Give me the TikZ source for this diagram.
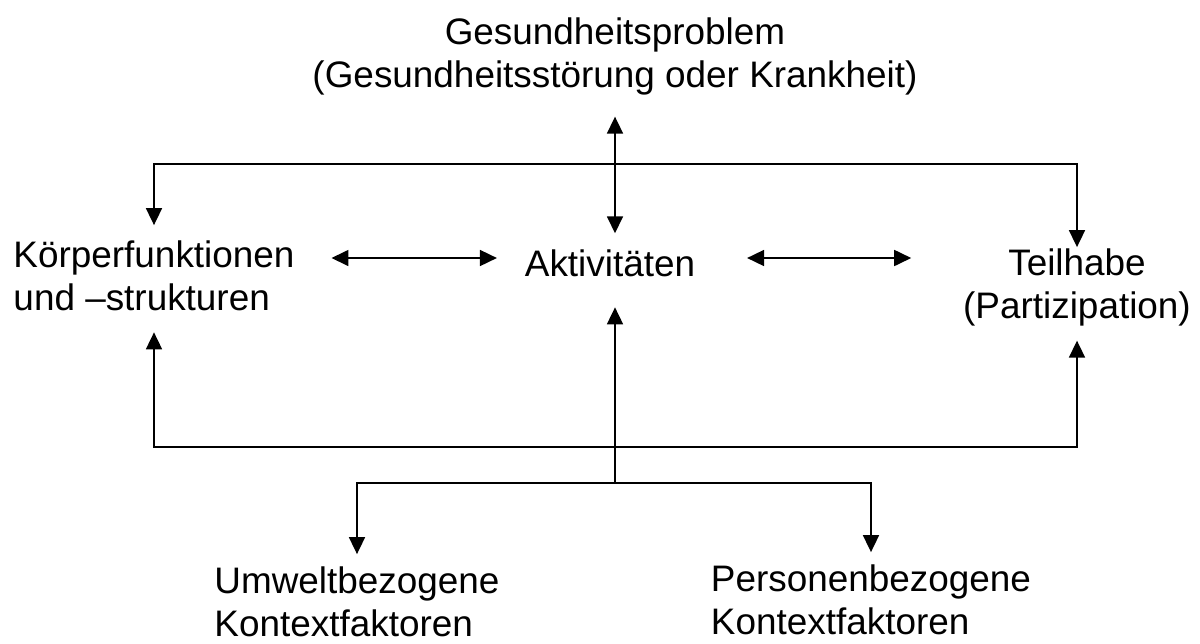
\documentclass[tikz,border=0pt]{standalone}
\usepackage{fontspec}
\setmainfont{Liberation Sans}
\usetikzlibrary{arrows.meta}

\tikzset{lbl/.style={inner sep=0pt, outer sep=0pt, align=center, font=\fontsize{21}{24}\selectfont}}
\tikzset{arr/.style={line width=1pt, -{Triangle[length=3.4mm,width=3.2mm]}}}
\tikzset{dblarr/.style={line width=1pt, {Triangle[length=3.4mm,width=3.2mm]}-{Triangle[length=3.4mm,width=3.2mm]}}}

\begin{document}
\begin{tikzpicture}[x=0.02cm, y=-0.02cm]
    \useasboundingbox (0,0) rectangle (1200,643);
    % Texte (base = letzte Zeile)
    \node[lbl, anchor=base] (gp) at (615,87) {Gesundheitsproblem\\(Gesundheitsstörung oder Krankheit)};
    \node[lbl, anchor=base, align=left] (kf) at (154,310) {Körperfunktionen\\und –strukturen};
    \node[lbl, anchor=base] (akt) at (610,276) {Aktivitäten};
    \node[lbl, anchor=base] (th) at (1077,318) {Teilhabe\\(Partizipation)};
    \node[lbl, anchor=base, align=left] (uw) at (357,636) {Umweltbezogene\\Kontextfaktoren};
    \node[lbl, anchor=base, align=left] (pb) at (871,634) {Personenbezogene\\Kontextfaktoren};
    % Knotenpunkte
    \coordinate (oben) at (615,164);
    \coordinate (mitte) at (615,258);
    \coordinate (unten) at (615,447);
    \coordinate (gabel) at (615,483);
    % Pfeile
    \draw[dblarr, shorten <=0.44cm, shorten >=0.32cm] (gp.south -| oben) -- (akt.north -| oben);
    \draw[arr, shorten >=0.32cm] (oben) -| (kf.north);
    \draw[arr, shorten >=0.04cm] (oben) -| (th.north);
    \draw[dblarr, shorten <=0.74cm, shorten >=0.56cm] (kf.east |- mitte) -- (akt.west |- mitte);
    \draw[dblarr, shorten <=1.04cm, shorten >=1.04cm] (akt.east |- mitte) -- (th.west |- mitte);
    \draw[arr, shorten >=0.62cm] (gabel) -- (akt.south -| gabel);
    \draw[arr, shorten >=0.44cm] (unten) -| (kf.south);
    \draw[arr, shorten >=0.3cm] (unten) -| (th.south);
    \draw[arr, shorten >=0.26cm] (gabel) -| (uw.north);
    \draw[arr, shorten >=0.26cm] (gabel) -| (pb.north);
\end{tikzpicture}
\end{document}
